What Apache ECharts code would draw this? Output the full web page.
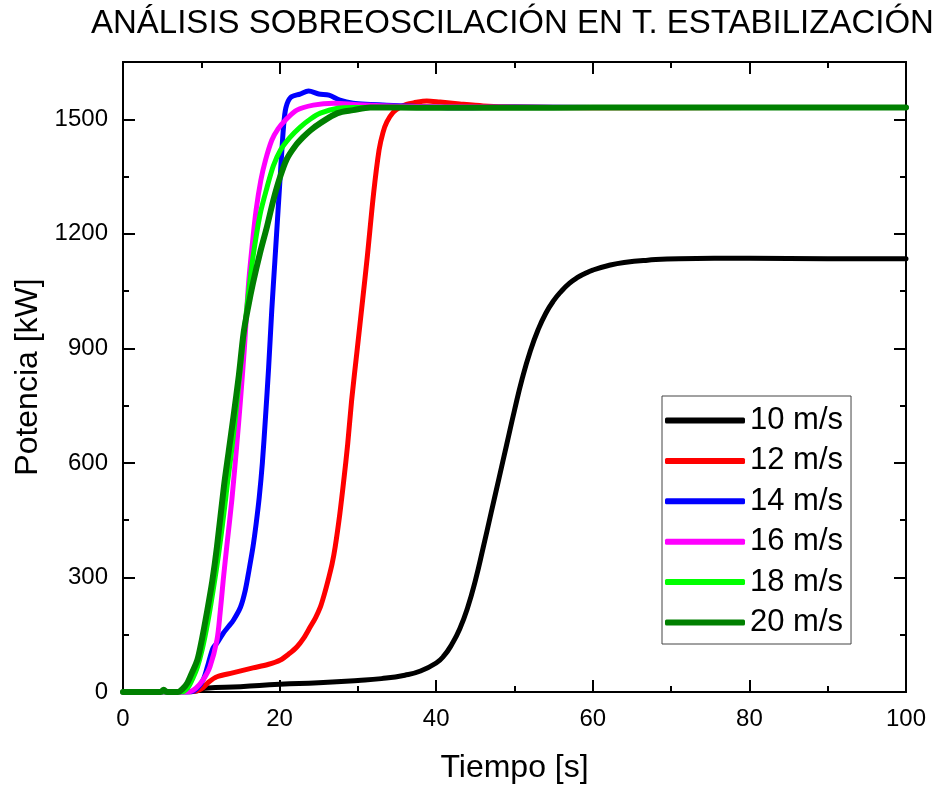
<!DOCTYPE html>
<html>
<head>
<meta charset="utf-8">
<script src="https://cdn.jsdelivr.net/npm/echarts@6/dist/echarts.min.js"></script>
<style>
  html, body { margin: 0; padding: 0; background: #fff; }
  #chart { width: 937px; height: 787px; }
</style>
</head>
<body>
<div id="chart"></div>
<script>
// Potencia de salida frente al tiempo para cada velocidad de viento
const seriesNames = ['10 m/s', '12 m/s', '14 m/s', '16 m/s', '18 m/s', '20 m/s'];
const seriesColors = ['#000000', '#ff0000', '#0000ff', '#ff00ff', '#00ff00', '#008000'];

const t10 = [0, 8, 9.5, 10.5, 15, 20, 25, 30, 33, 36, 38, 40, 41, 42, 43, 44, 45, 46, 47, 48, 49, 50, 51, 52, 53, 54, 55, 56, 57, 58, 59, 60, 62, 64, 67, 71, 80, 90, 100];
const p10 = [0, 0, 3, 10, 14, 20, 24, 30, 35, 44, 55, 76, 95, 125, 165, 220, 292, 378, 468, 558, 648, 738, 822, 892, 948, 992, 1025, 1050, 1070, 1085, 1096, 1105, 1117, 1125, 1131, 1135, 1136, 1135, 1135];

const t12 = [0, 9, 10, 11, 12, 14, 16.6, 18.5, 20.1, 21.2, 22.2, 23.1, 23.9, 24.6, 25.2, 25.7, 26.2, 26.7, 27.1, 27.7, 28.2, 28.7, 29.2, 29.9, 30.6, 31.2, 32, 32.7, 33.2, 33.7, 34.5, 35.4, 36.2, 37.1, 38.8, 40.5, 43, 46, 50, 60, 80, 100];
const p12 = [0, 1, 8, 27, 40, 50, 63, 72, 84, 100, 118, 142, 170, 195, 222, 255, 293, 335, 380, 468, 555, 650, 764, 895, 1026, 1140, 1305, 1419, 1465, 1493, 1518, 1532, 1539, 1543, 1548, 1545, 1540, 1535, 1532, 1530, 1531, 1531];

const t14 = [0, 8.5, 9.5, 10.3, 10.9, 11.5, 12, 12.8, 13.5, 14.1, 15, 15.6, 16.1, 16.6, 17, 17.4, 17.8, 18.2, 18.6, 19, 19.4, 19.8, 20.2, 20.5, 20.8, 21.4, 22.6, 23.7, 25, 26.3, 27.7, 29.4, 31.6, 33.7, 37, 42, 50, 60, 80, 100];
const p14 = [0, 0, 10, 35, 75, 115, 128, 154, 172, 188, 222, 265, 320, 380, 440, 510, 600, 720, 850, 1000, 1130, 1260, 1390, 1480, 1530, 1557, 1566, 1574, 1566, 1563, 1550, 1542, 1539, 1537, 1534, 1530, 1532, 1531, 1531, 1531];

const t16 = [0, 8.3, 9.3, 10.2, 11.1, 12, 12.4, 12.8, 13.3, 13.9, 14.5, 15, 15.5, 16, 16.5, 17, 17.6, 18.2, 19, 19.8, 20.7, 22.2, 24.3, 26.9, 30, 35, 45, 60, 80, 100];
const p16 = [0, 0, 10, 31, 66, 136, 206, 293, 390, 503, 640, 764, 900, 1060, 1170, 1262, 1340, 1393, 1445, 1475, 1497, 1524, 1537, 1542, 1538, 1534, 1532, 1531, 1531, 1531];

const t18 = [0, 7.5, 8.3, 8.9, 9.5, 10.1, 10.8, 11.5, 12.2, 12.9, 13.3, 13.8, 14.3, 14.9, 15.4, 16, 16.6, 17.5, 18.4, 19.2, 20.1, 21.3, 22.6, 23.9, 25.2, 27.4, 29.4, 32, 40, 50, 60, 80, 100];
const p18 = [0, 0, 12, 35, 65, 110, 180, 265, 360, 470, 540, 620, 710, 830, 930, 1040, 1139, 1250, 1322, 1378, 1419, 1452, 1479, 1500, 1516, 1529, 1531, 1531, 1531, 1531, 1531, 1531, 1531];

const t20 = [0, 4.8, 5.2, 5.6, 7, 7.6, 8.2, 8.8, 9.5, 10.1, 10.7, 11.4, 12, 12.9, 13.5, 14.1, 14.8, 15.4, 16, 16.6, 17.5, 18.4, 19.2, 20, 20.9, 22, 23, 24, 25.2, 27.4, 29.4, 31.6, 35, 40, 50, 60, 80, 100];
const p20 = [0, 0, 6, 0, 0, 8, 23, 50, 84, 140, 206, 290, 380, 540, 630, 720, 830, 940, 1010, 1071, 1150, 1220, 1288, 1345, 1395, 1430, 1453, 1472, 1490, 1516, 1524, 1531, 1531, 1530, 1530, 1531, 1531, 1531];

const times = [t10, t12, t14, t16, t18, t20];
const powers = [p10, p12, p14, p16, p18, p20];

const xTicks = { min: 0, max: 100, interval: 20 };
const yTicks = { min: 0, max: 1650, interval: 300, minorInterval: 150 };

const FONT = 'Liberation Sans, Arial, sans-serif';

function pairs(ts, ps) {
  return ts.map((t, i) => [t, ps[i]]);
}

const axisLine = { show: true, onZero: false, lineStyle: { color: '#000', width: 2 } };

function xAxisDef(position, withLabels) {
  return {
    type: 'value', position: position,
    min: xTicks.min, max: xTicks.max, interval: xTicks.interval,
    axisLine: axisLine,
    axisTick: { show: true, inside: true, length: 12, lineStyle: { color: '#000', width: 2 } },
    minorTick: { show: true, splitNumber: 2, length: 6, lineStyle: { color: '#000', width: 2 } },
    splitLine: { show: false },
    axisLabel: withLabels
      ? { show: true, margin: 15, color: '#000', fontSize: 24, fontFamily: FONT, formatter: v => String(v) }
      : { show: false },
    name: withLabels ? 'Tiempo [s]' : '',
    nameLocation: 'middle', nameGap: 60,
    nameTextStyle: { color: '#000', fontSize: 32, fontFamily: FONT }
  };
}

function yAxisDef(position, major, withLabels) {
  return {
    type: 'value', position: position, offset: 0,
    min: yTicks.min, max: yTicks.max,
    interval: major ? yTicks.interval : yTicks.minorInterval,
    axisLine: axisLine,
    axisTick: { show: true, inside: true, length: major ? 12 : 6, lineStyle: { color: '#000', width: 2 } },
    splitLine: { show: false },
    axisLabel: withLabels
      ? { show: true, margin: 15, color: '#000', fontSize: 24, fontFamily: FONT, showMaxLabel: false, formatter: v => String(v) }
      : { show: false },
    name: withLabels ? 'Potencia [kW]' : '',
    nameLocation: 'middle', nameGap: 67,
    nameTextStyle: { color: '#000', fontSize: 32, fontFamily: FONT }
  };
}

const chart = echarts.init(document.getElementById('chart'), null, { renderer: 'canvas' });

chart.setOption({
  backgroundColor: '#fff',
  animation: false,
  title: {
    text: 'ANÁLISIS SOBREOSCILACIÓN EN T. ESTABILIZACIÓN',
    left: 86, top: 2,
    textStyle: { color: '#000', fontSize: 33, fontWeight: 'normal', fontFamily: FONT }
  },
  grid: { left: 123, right: 31, top: 62, bottom: 95, containLabel: false, outerBoundsMode: 'none' },
  legend: {
    orient: 'vertical',
    left: 662, top: 396,
    padding: [9, 8, 6, 3],
    itemGap: 9.4,
    itemWidth: 80, itemHeight: 6,
    icon: 'roundRect',
    borderColor: '#444', borderWidth: 1,
    backgroundColor: '#fff',
    data: seriesNames,
    textStyle: { color: '#000', fontSize: 31, fontFamily: FONT, lineHeight: 30 }
  },
  xAxis: [xAxisDef('bottom', true), xAxisDef('top', false)],
  yAxis: [
    yAxisDef('left', true, true),
    yAxisDef('left', false, false),
    yAxisDef('right', true, false),
    yAxisDef('right', false, false)
  ],
  series: seriesNames.map((name, i) => ({
    name: name,
    type: 'line',
    xAxisIndex: 0, yAxisIndex: 0,
    data: pairs(times[i], powers[i]),
    showSymbol: false, symbol: 'none',
    smooth: i === 0 ? 0.5 : 0.3,
    color: seriesColors[i],
    lineStyle: { color: seriesColors[i], width: i === 5 ? 6 : 5, cap: 'round', join: 'round' },
    z: 2 + i
  }))
});
</script>
</body>
</html>
